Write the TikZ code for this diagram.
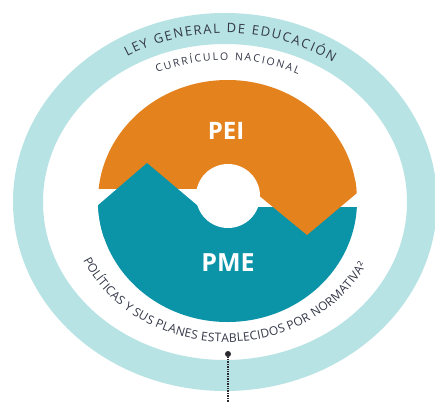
\documentclass[tikz,border=0pt]{standalone}
\usepackage{fontspec}
\setmainfont{Open Sans}
\usetikzlibrary{decorations.text}
\definecolor{ringc}{HTML}{B7E3E4}
\definecolor{orangec}{HTML}{E4821E}
\definecolor{tealc}{HTML}{0B93A7}
\definecolor{txt}{HTML}{343848}
\definecolor{dotc}{HTML}{2A2A30}
\tikzset{
  arctext/.style={decorate, decoration={text along path, text color=txt, text align={fit to path}, text={#1}}},
  bigtitle/.style={font=\fontsize{24}{24}\selectfont\bfseries, text=white, inner sep=0pt},
  dotline/.style={draw=dotc, line width=1.1pt, dash pattern=on 0.8pt off 0.9pt}
}
\begin{document}
\begin{tikzpicture}[x=1pt,y=1pt]
\useasboundingbox (0,0) rectangle (435,402);
\fill[white] (0,0) rectangle (435,402);
\clip (0,0) rectangle (435,402);
% outer ring
\fill[ringc, even odd rule] (225,200) ellipse [x radius=212, y radius=189]
                            (225,200) ellipse [x radius=182, y radius=158];
% central disk
\begin{scope}
  \clip (227.5,201) ellipse [x radius=129.5, y radius=121];
  \fill[tealc] (0,0) rectangle (435,195);
  \fill[orangec] (0,213) rectangle (435,402);
  \fill[orangec] (240,222) -- (307,167) -- (372.5,222) -- cycle;
  \fill[tealc] (60,164) -- (147,239) -- (236,164) -- cycle;
\end{scope}
\fill[white] (228,206) circle [radius=32];
% titles
\node[bigtitle] (pei) at (226,271) {PEI};
\node[bigtitle, font=\fontsize{25}{25}\selectfont\bfseries] (pme) at (228,139) {PME};
% arc texts
\path[arctext={|\fontsize{13}{14}\selectfont|LEY GENERAL DE EDUCACIÓN}]
  ([shift={(225,200)}]120.6:192.5 and 169) arc[start angle=120.6, end angle=55.9, x radius=192.5, y radius=169];
\path[arctext={|\fontsize{10.5}{11}\selectfont|CURRÍCULO NACIONAL}]
  ([shift={(226,200)}]114.7:165 and 142) arc[start angle=114.7, end angle=64.1, x radius=165, y radius=142];
\path[arctext={|\fontsize{12}{13}\selectfont|POLÍTICAS Y SUS PLANES ESTABLECIDOS POR NORMATIVA²}]
  ([shift={(226,200)}]204.5:157 and 140) arc[start angle=204.5, end angle=333.3, x radius=157, y radius=140];
% dot and dotted leader
\node[circle, fill=dotc, inner sep=0pt, minimum size=6pt] (dot) at (228,48) {};
\coordinate (lineend) at (228,0);
\draw[dotline] (dot) -- (lineend);
\end{tikzpicture}
\end{document}
